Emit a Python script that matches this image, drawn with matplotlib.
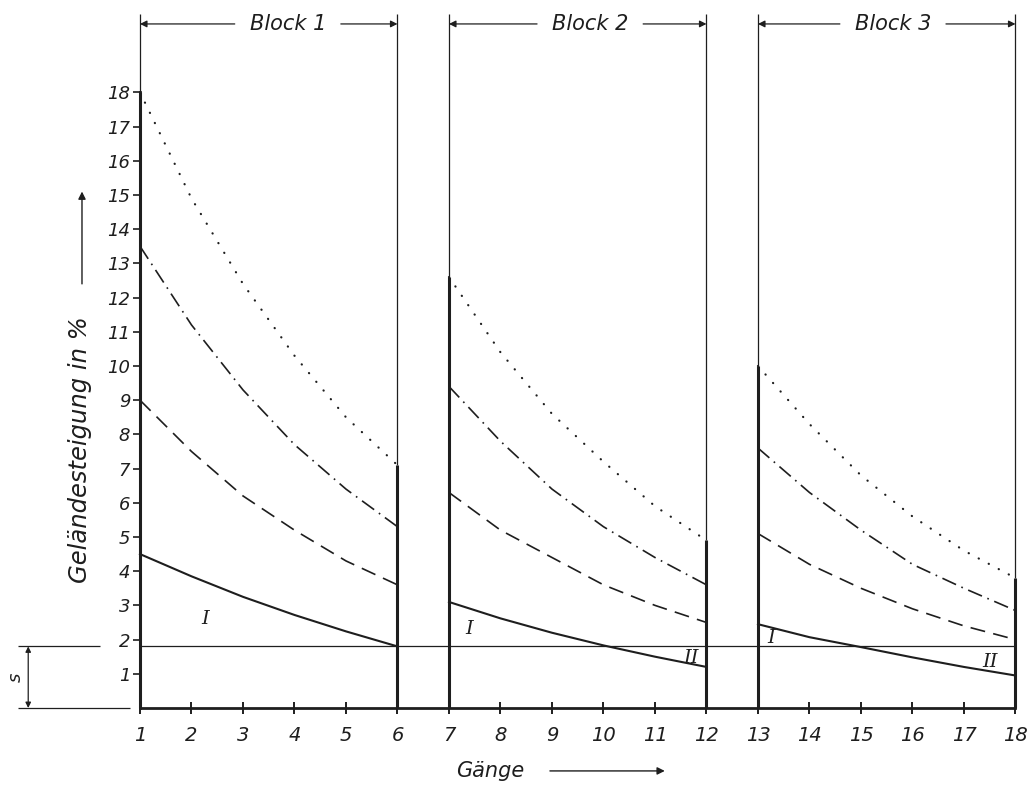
"""Gear-block chart: Geländesteigung vs Gänge, three blocks of six gears."""

import matplotlib

matplotlib.use("Agg")
import matplotlib.pyplot as plt  # noqa: E402

# --- data ----------------------------------------------------------------
gears = [[1, 2, 3, 4, 5, 6], [7, 8, 9, 10, 11, 12], [13, 14, 15, 16, 17, 18]]
block_labels = ["Block 1", "Block 2", "Block 3"]
block_text_x = [3.87, 9.74, 15.62]

dotted = [[18.0, 14.9, 12.4, 10.3, 8.5, 7.1],
          [12.6, 10.4, 8.6, 7.2, 5.9, 4.9],
          [10.0, 8.3, 6.8, 5.6, 4.6, 3.8]]
dashdot = [[13.5, 11.2, 9.3, 7.7, 6.4, 5.3],
           [9.4, 7.8, 6.4, 5.3, 4.4, 3.6],
           [7.6, 6.3, 5.2, 4.2, 3.5, 2.85]]
dashed = [[9.0, 7.5, 6.2, 5.2, 4.3, 3.6],
          [6.3, 5.2, 4.4, 3.6, 3.0, 2.5],
          [5.1, 4.2, 3.5, 2.9, 2.4, 2.0]]
solid = [[4.5, 3.85, 3.25, 2.72, 2.24, 1.8],
         [3.1, 2.62, 2.2, 1.83, 1.5, 1.2],
         [2.45, 2.07, 1.78, 1.48, 1.2, 0.95]]

s_level = 1.8
x_ticks = list(range(1, 19))
y_ticks = list(range(1, 19))

# region labels I / II: (x, y, text)
region_marks = [(2.26, 2.6, "I"), (7.4, 2.3, "I"), (11.7, 1.45, "II"),
                (13.25, 2.05, "I"), (17.5, 1.35, "II")]

INK = "#1e1e1e"
FONT = dict(family="DejaVu Sans", style="italic", color=INK)

fig = plt.figure(figsize=(10.33, 7.87), dpi=100)
ax = fig.add_axes([0, 0, 1, 1])
ax.set_xlim(-1.718, 18.34)
ax.set_ylim(-2.31, 20.70)

# axes drawn as spines through the origin of the drawing
for side in ("top", "right"):
    ax.spines[side].set_visible(False)
ax.spines["bottom"].set_position(("data", 0))
ax.spines["bottom"].set_bounds(1, 18)
ax.spines["left"].set_position(("data", 1))
ax.spines["left"].set_bounds(0, 18)
for side in ("bottom", "left"):
    ax.spines[side].set_linewidth(2.0)
    ax.spines[side].set_color(INK)

ax.set_xticks(x_ticks)
ax.set_xticklabels([str(t) for t in x_ticks], fontsize=14, **FONT)
ax.set_yticks(y_ticks)
ax.set_yticklabels([str(t) for t in y_ticks], fontsize=13, **FONT)
ax.tick_params(axis="x", direction="inout", length=8, width=1.4, pad=9, colors=INK)
ax.tick_params(axis="y", direction="out", length=5, width=1.2, pad=2, colors=INK)

top = 20.3
for i, g in enumerate(gears):
    dot = dotted[i]
    # thick block borders reach the dotted curve, thin extension up to bracket
    ax.vlines([g[0], g[-1]], 0, [dot[0], dot[-1]], color=INK, lw=2.2)
    ax.vlines([g[0], g[-1]], [dot[0], dot[-1]], top, color=INK, lw=0.9)

    ax.plot(g, dot, color=INK, lw=1.6, ls=(0, (0.1, 5.0)), dash_capstyle="round")
    ax.plot(g, dashdot[i], color=INK, lw=1.2, ls=(0, (9, 3.5, 1, 3.5)))
    ax.plot(g, dashed[i], color=INK, lw=1.2, ls=(0, (9, 5)))
    ax.plot(g, solid[i], color=INK, lw=1.5)

# block brackets
for g, lab, tx in zip(gears, block_labels, block_text_x):
    ax.text(tx, 20.0, lab, ha="center", va="center", fontsize=15, **FONT)
    arrow = dict(arrowstyle="-|>", lw=0.9, color=INK, mutation_scale=10,
                 shrinkA=0, shrinkB=0)
    ax.annotate("", xy=(g[0], 20.0), xytext=(tx - 1.03, 20.0), arrowprops=arrow)
    ax.annotate("", xy=(g[-1], 20.0), xytext=(tx + 1.03, 20.0), arrowprops=arrow)

# s level line and its dimension
ax.hlines(s_level, 1, 18, color=INK, lw=0.9)
ax.hlines(s_level, -1.37, 0.22, color=INK, lw=0.9)
ax.hlines(0, -1.37, 0.81, color=INK, lw=0.9)
ax.annotate("", xy=(-1.17, s_level), xytext=(-1.17, 0),
            arrowprops=dict(arrowstyle="<|-|>", lw=0.9, color=INK,
                            mutation_scale=8, shrinkA=0, shrinkB=0))
ax.text(-1.42, 0.9, "s", rotation=90, ha="center", va="center", fontsize=13, **FONT)

for x, y, t in region_marks:
    ax.text(x, y, t, ha="center", va="center", fontsize=14,
            family="DejaVu Serif", style="italic", color=INK)

# axis titles with arrows
ax.text(-0.165, 7.55, "Geländesteigung in %", rotation=90, ha="center",
        va="center", fontsize=17.5, **FONT)
ax.annotate("", xy=(-0.126, 15.1), xytext=(-0.126, 12.4),
            arrowprops=dict(arrowstyle="-|>", lw=1.0, color=INK,
                            mutation_scale=11, shrinkA=0, shrinkB=0))
ax.text(7.8, -1.84, "Gänge", ha="center", va="center", fontsize=15, **FONT)
ax.annotate("", xy=(11.19, -1.84), xytext=(8.96, -1.84),
            arrowprops=dict(arrowstyle="-|>", lw=1.0, color=INK,
                            mutation_scale=11, shrinkA=0, shrinkB=0))

fig.savefig("out.png", dpi=100)
